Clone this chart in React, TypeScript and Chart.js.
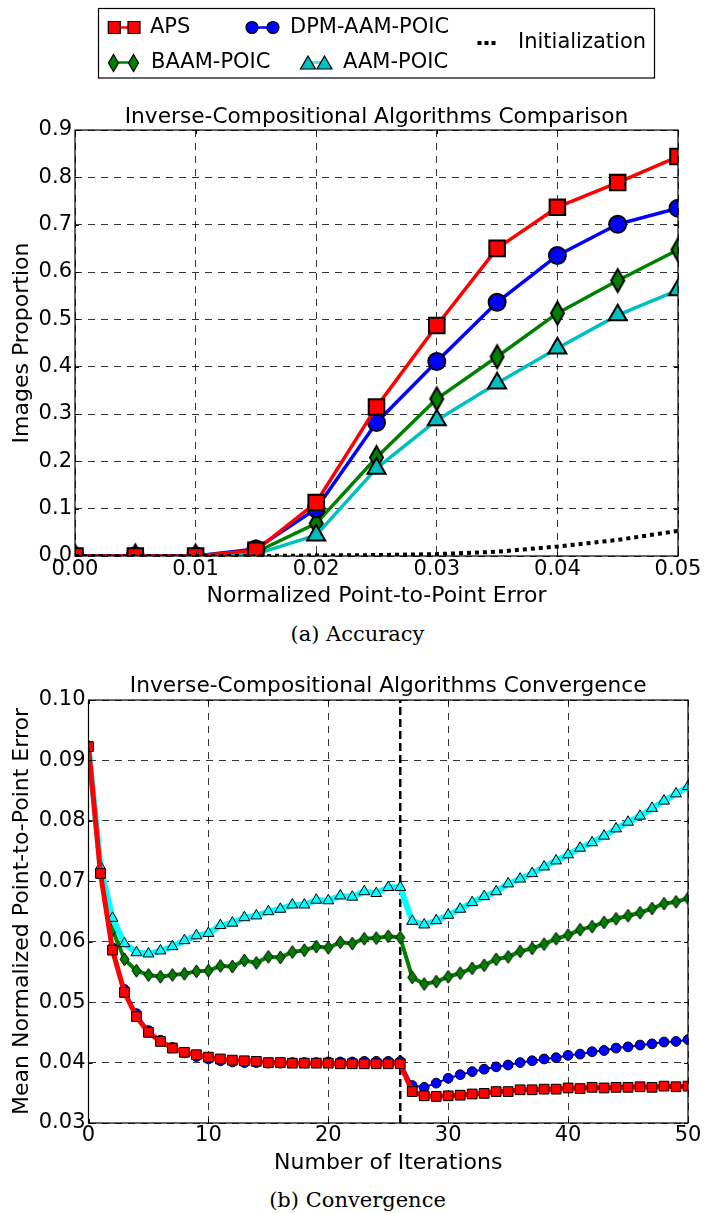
import { useEffect, useRef } from 'react';
import { Chart, registerables } from 'chart.js';

Chart.register(...registerables);

// ---- Accuracy (cumulative error distribution) ----
const errorThresholds = [0, 0.005, 0.01, 0.015, 0.02, 0.025, 0.03, 0.035, 0.04, 0.045, 0.05];
const apsAccuracy = [0, 0, 0, 0.012, 0.113, 0.315, 0.487, 0.65, 0.737, 0.789, 0.844];
const dpmAccuracy = [0, 0, 0, 0.015, 0.1, 0.282, 0.411, 0.536, 0.635, 0.701, 0.735];
const baamAccuracy = [0, 0, 0, 0.008, 0.069, 0.208, 0.332, 0.421, 0.513, 0.582, 0.647];
const aamAccuracy = [0, 0, 0, 0.004, 0.044, 0.185, 0.287, 0.365, 0.439, 0.509, 0.562];
const initAccuracy = [0, 0, 0, 0, 0.001, 0.002, 0.004, 0.009, 0.02, 0.034, 0.053];

// ---- Convergence (mean error per iteration) ----
const iterations = Array.from({ length: 51 }, (_, i) => i);
const apsConvergence = [
  0.0923, 0.0713, 0.0586, 0.0516, 0.0476, 0.045, 0.0435, 0.0424, 0.0417, 0.0413,
  0.0409, 0.0406, 0.0404, 0.0403, 0.0402, 0.04, 0.04, 0.0399, 0.0399, 0.0399,
  0.0399, 0.0398, 0.0398, 0.0398, 0.0398, 0.0398, 0.0398, 0.0352, 0.0345, 0.0344,
  0.0345, 0.0346, 0.0348, 0.0349, 0.0352, 0.0352, 0.0355, 0.0355, 0.0356, 0.0356,
  0.0358, 0.0357, 0.0359, 0.0358, 0.0359, 0.0359, 0.036, 0.0359, 0.0361, 0.036,
  0.0361,
];
const dpmConvergence = [
  0.0923, 0.0713, 0.059, 0.0521, 0.0481, 0.0453, 0.0437, 0.0425, 0.0416, 0.041,
  0.0406, 0.0403, 0.0401, 0.04, 0.04, 0.0399, 0.0399, 0.04, 0.04, 0.04,
  0.0401, 0.0401, 0.0401, 0.0402, 0.0402, 0.0402, 0.0402, 0.0362, 0.0359, 0.0366,
  0.0374, 0.038, 0.0385, 0.0389, 0.0393, 0.0396, 0.04, 0.0403, 0.0406, 0.0408,
  0.0412, 0.0414, 0.0418, 0.042, 0.0424, 0.0426, 0.0429, 0.0431, 0.0434, 0.0435,
  0.0438,
];
const baamConvergence = [
  0.0923, 0.0716, 0.062, 0.0571, 0.0552, 0.0545, 0.0542, 0.0545, 0.0547, 0.0551,
  0.0552, 0.056, 0.0559, 0.0569, 0.0565, 0.0575, 0.0574, 0.0583, 0.0586, 0.0592,
  0.059, 0.0599, 0.0597, 0.0605, 0.0606, 0.0609, 0.0607, 0.0541, 0.053, 0.0534,
  0.0542, 0.0548, 0.0556, 0.0561, 0.0571, 0.0575, 0.0584, 0.0589, 0.0596, 0.0605,
  0.0611, 0.062, 0.0625, 0.0632, 0.0638, 0.0643, 0.0648, 0.0655, 0.0663, 0.0666,
  0.0672,
];
const aamConvergence = [
  0.0923, 0.0724, 0.0639, 0.0597, 0.0582, 0.058, 0.0585, 0.0592, 0.0602, 0.061,
  0.0614, 0.0627, 0.0631, 0.064, 0.0643, 0.065, 0.0654, 0.0661, 0.0661, 0.0669,
  0.0668, 0.0676, 0.0674, 0.0683, 0.068, 0.069, 0.069, 0.0634, 0.0628, 0.0635,
  0.0644, 0.0654, 0.0665, 0.0675, 0.0683, 0.0696, 0.0704, 0.0713, 0.0724, 0.0734,
  0.0744, 0.0755, 0.0764, 0.0775, 0.0787, 0.0798, 0.0808, 0.0821, 0.0833, 0.0845,
  0.0857,
];
const switchIteration = 26;

const seriesNames = ['APS', 'DPM-AAM-POIC', 'BAAM-POIC', 'AAM-POIC', 'Initialization'];

const FONT = 'DejaVu Sans';
const RED = '#ff0000';
const BLUE = '#0000ff';
const GREEN = '#008000';
const TEAL = '#00bfbf';
const AQUA = '#00ffff';
const GRID = 'rgba(0,0,0,0.8)';

const toPoints = (xs: number[], ys: number[]) => xs.map((x, i) => ({ x, y: ys[i] }));

// Thin diamond marker rendered once to an offscreen canvas
function thinDiamond(w: number, h: number, fill: string, lw: number) {
  const c = document.createElement('canvas');
  c.width = Math.ceil(w + lw * 2 + 2);
  c.height = Math.ceil(h + lw * 2 + 2);
  const ctx = c.getContext('2d')!;
  const cx = c.width / 2;
  const cy = c.height / 2;
  ctx.beginPath();
  ctx.moveTo(cx, cy - h / 2);
  ctx.lineTo(cx + w / 2, cy);
  ctx.lineTo(cx, cy + h / 2);
  ctx.lineTo(cx - w / 2, cy);
  ctx.closePath();
  ctx.fillStyle = fill;
  ctx.fill();
  ctx.lineWidth = lw;
  ctx.strokeStyle = '#000';
  ctx.stroke();
  return c;
}

// Box around the plot area plus inward tick marks on all four sides
const framePlugin = {
  id: 'frame',
  afterDatasetsDraw(chart: any) {
    const { ctx, chartArea: a, scales } = chart;
    ctx.save();
    ctx.strokeStyle = '#000';
    ctx.lineWidth = 1;
    const tickLen = 4;
    ctx.beginPath();
    for (const t of scales.x.ticks) {
      const px = Math.round(scales.x.getPixelForValue(t.value)) + 0.5;
      ctx.moveTo(px, a.bottom);
      ctx.lineTo(px, a.bottom - tickLen);
      ctx.moveTo(px, a.top);
      ctx.lineTo(px, a.top + tickLen);
    }
    for (const t of scales.y.ticks) {
      const py = Math.round(scales.y.getPixelForValue(t.value)) + 0.5;
      ctx.moveTo(a.left, py);
      ctx.lineTo(a.left + tickLen, py);
      ctx.moveTo(a.right, py);
      ctx.lineTo(a.right - tickLen, py);
    }
    ctx.stroke();
    ctx.lineWidth = 1.2;
    ctx.strokeRect(a.left, a.top, a.right - a.left, a.bottom - a.top);
    ctx.restore();
  },
};

// Shared legend box drawn above the accuracy plot
function makeKeyPlugin(diamond: HTMLCanvasElement) {
  return {
    id: 'seriesKey',
    afterDraw(chart: any) {
      const ctx: CanvasRenderingContext2D = chart.ctx;
      ctx.save();
      ctx.fillStyle = '#fff';
      ctx.fillRect(98.5, 8.5, 556, 69.5);
      ctx.strokeStyle = '#000';
      ctx.lineWidth = 1.2;
      ctx.strokeRect(98.5, 8.5, 556, 69.5);

      const seg = (x1: number, x2: number, y: number, color: string, w: number) => {
        ctx.beginPath();
        ctx.moveTo(x1, y);
        ctx.lineTo(x2, y);
        ctx.strokeStyle = color;
        ctx.lineWidth = w;
        ctx.stroke();
      };
      const edge = () => {
        ctx.strokeStyle = '#000';
        ctx.lineWidth = 1.2;
        ctx.fill();
        ctx.stroke();
      };

      const r1 = 27.5;
      const r2 = 62.5;
      // APS
      seg(114, 134, r1, RED, 2.5);
      for (const x of [114.3, 134]) {
        ctx.beginPath();
        ctx.rect(x - 6, r1 - 6, 12, 12);
        ctx.fillStyle = RED;
        edge();
      }
      // DPM-AAM-POIC
      seg(252, 273, r1, BLUE, 2.5);
      for (const x of [252, 273]) {
        ctx.beginPath();
        ctx.arc(x, r1, 6, 0, Math.PI * 2);
        ctx.fillStyle = BLUE;
        edge();
      }
      // BAAM-POIC
      seg(113.5, 133.5, r2, GREEN, 2.5);
      for (const x of [113.5, 133.5]) {
        ctx.drawImage(diamond, Math.round(x - diamond.width / 2), Math.round(r2 - diamond.height / 2));
      }
      // AAM-POIC
      seg(308, 325, r2, '#66d9d9', 3);
      for (const x of [308, 324.5]) {
        ctx.beginPath();
        ctx.moveTo(x, r2 - 6.5);
        ctx.lineTo(x + 7.5, r2 + 6.5);
        ctx.lineTo(x - 7.5, r2 + 6.5);
        ctx.closePath();
        ctx.fillStyle = TEAL;
        edge();
      }
      // Initialization
      ctx.setLineDash([4, 3]);
      seg(477.5, 495.5, 43, '#000', 4);
      ctx.setLineDash([]);

      ctx.fillStyle = '#000';
      ctx.font = `21px "${FONT}"`;
      ctx.textBaseline = 'middle';
      ctx.textAlign = 'left';
      ctx.fillText(seriesNames[0], 150, r1);
      ctx.fillText(seriesNames[1], 290, r1);
      ctx.fillText(seriesNames[2], 151, r2);
      ctx.fillText(seriesNames[3], 343, r2);
      ctx.fillText(seriesNames[4], 518, 43);
      ctx.restore();
    },
  };
}

const tickFont = { family: FONT, size: 21 };
const axisTitleFont = { family: FONT, size: 22, weight: 'normal' as const };
const plotTitleFont = { family: FONT, size: 21.7, weight: 'normal' as const };

export default function App() {
  const accRef = useRef<HTMLCanvasElement>(null);
  const convRef = useRef<HTMLCanvasElement>(null);

  useEffect(() => {
    Chart.defaults.color = '#000';
    Chart.defaults.font.family = FONT;

    const bigDiamond = thinDiamond(13, 23, GREEN, 2);
    const smallDiamond = thinDiamond(9, 13, GREEN, 1);
    const keyDiamond = thinDiamond(10, 17, GREEN, 1.2);

    const acc = new Chart(accRef.current!, {
      type: 'line',
      data: {
        datasets: [
          {
            label: seriesNames[4],
            data: toPoints(errorThresholds, initAccuracy),
            borderColor: '#000',
            borderWidth: 4,
            borderDash: [4, 4],
            pointRadius: 0,
            clip: 0,
          },
          {
            label: seriesNames[0],
            data: toPoints(errorThresholds, apsAccuracy),
            borderColor: RED,
            borderWidth: 3.5,
            borderJoinStyle: 'round',
            pointStyle: 'rect',
            pointRadius: 11,
            pointBackgroundColor: RED,
            pointBorderColor: '#000',
            pointBorderWidth: 2,
            clip: 0,
          },
          {
            label: seriesNames[1],
            data: toPoints(errorThresholds, dpmAccuracy),
            borderColor: BLUE,
            borderWidth: 3.5,
            borderJoinStyle: 'round',
            pointStyle: 'circle',
            pointRadius: 8.5,
            pointBackgroundColor: BLUE,
            pointBorderColor: '#000',
            pointBorderWidth: 2,
            clip: 0,
          },
          {
            label: seriesNames[3],
            data: toPoints(errorThresholds, aamAccuracy),
            borderColor: TEAL,
            borderWidth: 3.5,
            borderJoinStyle: 'round',
            pointStyle: 'triangle',
            pointRadius: 10.4,
            pointBackgroundColor: TEAL,
            pointBorderColor: '#000',
            pointBorderWidth: 2,
            clip: 0,
          },
          {
            label: seriesNames[2],
            data: toPoints(errorThresholds, baamAccuracy),
            borderColor: GREEN,
            borderWidth: 3.5,
            borderJoinStyle: 'round',
            pointStyle: bigDiamond,
            pointRadius: 9,
            clip: 0,
          },
        ] as any,
      },
      options: {
        animation: false,
        responsive: false,
        devicePixelRatio: 1,
        events: [],
        layout: { padding: { left: 0, right: 27, top: 0, bottom: 0 } },
        plugins: {
          legend: { display: false },
          tooltip: { enabled: false },
          title: {
            display: true,
            text: 'Inverse-Compositional Algorithms Comparison',
            font: plotTitleFont,
            color: '#000',
            padding: { top: 104, bottom: 0 },
            fullSize: false,
          },
        },
        scales: {
          x: {
            type: 'linear',
            min: 0,
            max: 0.05,
            ticks: {
              stepSize: 0.01,
              padding: 1,
              font: tickFont,
              color: '#000',
              maxRotation: 0,
              autoSkip: false,
              callback: (v: any) => Number(v).toFixed(2),
            },
            grid: { color: GRID, lineWidth: 1, drawTicks: false },
            border: { display: false, dash: [7, 6] },
            title: {
              display: true,
              text: 'Normalized Point-to-Point Error',
              font: axisTitleFont,
              color: '#000',
              padding: { top: 0, bottom: 5.3 },
            },
            afterFit: (s: any) => {
              s.height = 59;
            },
          },
          y: {
            type: 'linear',
            min: 0,
            max: 0.9,
            ticks: {
              stepSize: 0.1,
              padding: 3,
              font: tickFont,
              color: '#000',
              callback: (v: any) => Number(v).toFixed(1),
            },
            grid: { color: GRID, lineWidth: 1, drawTicks: false },
            border: { display: false, dash: [7, 6] },
            title: {
              display: true,
              text: 'Images Proportion',
              font: axisTitleFont,
              color: '#000',
              padding: { top: 8.8, bottom: 0 },
            },
            afterFit: (s: any) => {
              s.width = 75;
            },
          },
        },
      } as any,
      plugins: [framePlugin, makeKeyPlugin(keyDiamond)],
    });

    const conv = new Chart(convRef.current!, {
      type: 'line',
      data: {
        datasets: [
          {
            label: seriesNames[0],
            data: toPoints(iterations, apsConvergence),
            borderColor: RED,
            borderWidth: 5,
            borderJoinStyle: 'round',
            pointStyle: 'rect',
            pointRadius: 6.9,
            pointBackgroundColor: RED,
            pointBorderColor: '#000',
            pointBorderWidth: 1,
            clip: 0,
          },
          {
            label: seriesNames[1],
            data: toPoints(iterations, dpmConvergence),
            borderColor: BLUE,
            borderWidth: 2,
            borderJoinStyle: 'round',
            pointStyle: 'circle',
            pointRadius: 4.9,
            pointBackgroundColor: BLUE,
            pointBorderColor: '#000',
            pointBorderWidth: 1,
            clip: 0,
          },
          {
            label: seriesNames[3],
            data: toPoints(iterations, aamConvergence),
            borderColor: AQUA,
            borderWidth: 6,
            borderJoinStyle: 'round',
            pointStyle: 'triangle',
            pointRadius: 6.3,
            pointBackgroundColor: AQUA,
            pointBorderColor: '#000',
            pointBorderWidth: 1,
            clip: 0,
          },
          {
            label: seriesNames[2],
            data: toPoints(iterations, baamConvergence),
            borderColor: GREEN,
            borderWidth: 4,
            borderJoinStyle: 'round',
            pointStyle: smallDiamond,
            pointRadius: 6,
            clip: 0,
          },
          {
            label: 'switch',
            data: [
              { x: switchIteration, y: 0.03 },
              { x: switchIteration, y: 0.1 },
            ],
            borderColor: '#000',
            borderWidth: 2.5,
            borderDash: [8, 4],
            pointRadius: 0,
            clip: 0,
          },
        ] as any,
      },
      options: {
        animation: false,
        responsive: false,
        devicePixelRatio: 1,
        events: [],
        layout: { padding: { left: 0, right: 17, top: 0, bottom: 0 } },
        plugins: {
          legend: { display: false },
          tooltip: { enabled: false },
          title: {
            display: true,
            text: 'Inverse-Compositional Algorithms Convergence',
            font: plotTitleFont,
            color: '#000',
            padding: { top: 33.8, bottom: 0.2 },
            fullSize: false,
          },
        },
        scales: {
          x: {
            type: 'linear',
            min: 0,
            max: 50,
            ticks: {
              stepSize: 10,
              padding: 0,
              font: tickFont,
              color: '#000',
              maxRotation: 0,
              autoSkip: false,
              callback: (v: any) => String(v),
            },
            grid: { color: GRID, lineWidth: 1, drawTicks: false },
            border: { display: false, dash: [7, 6] },
            title: {
              display: true,
              text: 'Number of Iterations',
              font: axisTitleFont,
              color: '#000',
              padding: { top: 0, bottom: 3.8 },
            },
            afterFit: (s: any) => {
              s.height = 57;
            },
          },
          y: {
            type: 'linear',
            min: 0.03,
            max: 0.1,
            ticks: {
              stepSize: 0.01,
              padding: 3,
              font: tickFont,
              color: '#000',
              callback: (v: any) => Number(v).toFixed(2),
            },
            grid: { color: GRID, lineWidth: 1, drawTicks: false },
            border: { display: false, dash: [7, 6] },
            title: {
              display: true,
              text: 'Mean Normalized Point-to-Point Error',
              font: axisTitleFont,
              color: '#000',
              padding: { top: 9.1, bottom: 0 },
            },
            afterFit: (s: any) => {
              s.width = 88.5;
            },
          },
        },
      } as any,
      plugins: [framePlugin],
    });

    return () => {
      acc.destroy();
      conv.destroy();
    };
  }, []);

  const caption: React.CSSProperties = {
    position: 'absolute',
    left: 5,
    width: 705,
    textAlign: 'center',
    fontFamily: '"DejaVu Serif", serif',
    fontSize: 21,
    lineHeight: '24px',
    color: '#000',
  };

  return (
    <div style={{ position: 'absolute', left: 0, top: 0, width: 705, height: 1213, background: '#fff', overflow: 'hidden' }}>
      <canvas ref={accRef} width={705} height={615} style={{ position: 'absolute', left: 0, top: 0 }} />
      <div style={{ ...caption, top: 622 }}>(a) Accuracy</div>
      <canvas ref={convRef} width={705} height={540} style={{ position: 'absolute', left: 0, top: 640 }} />
      <div style={{ ...caption, top: 1188 }}>(b) Convergence</div>
    </div>
  );
}
